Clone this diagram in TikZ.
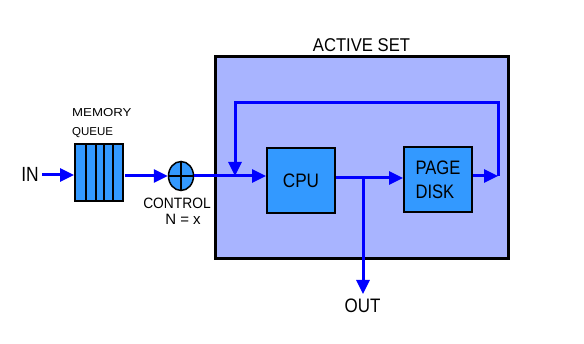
\documentclass[tikz,border=0pt]{standalone}
\usepackage{fontspec}
\setmainfont{Liberation Sans}
\usetikzlibrary{arrows.meta,shapes.geometric}
\definecolor{setfill}{HTML}{A8B4FF}
\definecolor{boxfill}{HTML}{3399FF}
\definecolor{flow}{HTML}{0000FF}
\newcommand{\nx}[2][0.88]{\scalebox{#1}[1]{#2}}
\begin{document}
\begin{tikzpicture}[x=1pt,y=-1pt,
  flowline/.style={draw=flow, line width=3pt},
  tip/.style={-{Triangle[length=14pt,width=13pt]}},
  unit/.style={draw=black, line width=2pt, fill=boxfill, minimum width=68pt, minimum height=65pt, inner sep=0pt, align=left, font=\fontsize{19.5}{24}\selectfont},
  lbl/.style={inner sep=0pt, anchor=base},
  big/.style={lbl, font=\fontsize{19.5}{24}\selectfont},
  mid/.style={lbl, font=\fontsize{15}{16}\selectfont},
  small/.style={lbl, anchor=base west, font=\fontsize{11.5}{12}\selectfont}]
\useasboundingbox (0,0) rectangle (584,344);
\fill[white] (0,0) rectangle (584,344);
% active set
\node[draw=black, line width=3pt, fill=setfill, minimum width=293pt, minimum height=202pt, inner sep=0pt] (set) at (361.5,158) {};
\node[big, font=\fontsize{18.5}{20}\selectfont] (settitle) at (361.5,52) {\nx[0.9]{ACTIVE SET}};
% units
\node[unit] (cpu) at (301,180.5) {\nx{CPU}};
\node[unit] (disk) at (438,179.5) {\nx[0.85]{PAGE}\\\nx[0.85]{DISK}};
% memory queue
\node[draw=black, line width=2pt, fill=boxfill, minimum width=48pt, minimum height=57pt, inner sep=0pt] (queue) at (99,172.5) {};
\foreach \xx/\ww in {86/2.5,96/1.5,104/2.5,113/1.5}
  \draw[line width=\ww pt] (\xx,144) -- (\xx,201);
\node[small] (qlabel1) at (72,117) {\nx[1.15]{MEMORY}};
\node[small] (qlabel2) at (72,136) {\nx[1.0]{QUEUE}};
% control
\node[draw=black, line width=1.5pt, fill=boxfill, ellipse, minimum width=25pt, minimum height=29pt, inner sep=0pt] (ctrl) at (181,176) {};
\draw[line width=1.5pt] (ctrl.north) -- (ctrl.south) (ctrl.west) -- (ctrl.east);
\node[mid] (clabel1) at (177,209) {\nx[0.92]{CONTROL}};
\node[mid] (clabel2) at (183,225) {N = x};
% labels
\node[big, font=\fontsize{20.5}{22}\selectfont] (in) at (30,182) {\nx[0.85]{IN}};
\node[big] (out) at (362.5,313) {\nx[0.87]{OUT}};
% coordinates
\coordinate (fr) at (498,176);
\coordinate (ftop) at (498,103);
\coordinate (ltop) at (235,103);
\coordinate (lbot) at (235,176);
\coordinate (split) at (363,178);
\coordinate (outtip) at (363,294);
\coordinate (inarr) at (42,175);
\coordinate (qout) at (125,176);
% flows
\draw[flowline, tip] (inarr) -- (queue.west |- inarr);
\draw[flowline, tip] (qout) -- (ctrl.west);
\draw[flowline, tip] (ctrl.east) -- (ctrl.east -| cpu.west);
\draw[flowline, tip] (cpu.east |- split) -- (disk.west |- split);
\draw[flowline, tip] (split) -- (outtip);
\draw[flowline, tip] (disk.east |- fr) -- (fr);
\draw[flowline, tip] (fr) -- (ftop) -- (ltop) -- (lbot);
\end{tikzpicture}
\end{document}
